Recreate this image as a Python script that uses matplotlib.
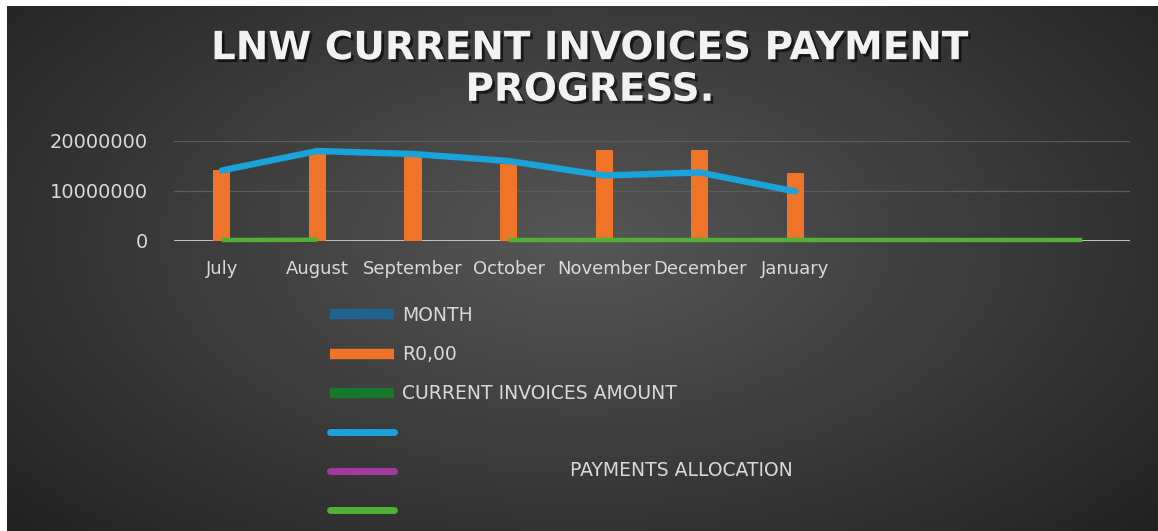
import numpy as np
import matplotlib
matplotlib.use("Agg")
import matplotlib.pyplot as plt
import matplotlib.patheffects as pe
from matplotlib.lines import Line2D

nan = np.nan

# chart data
months = ["July", "August", "September", "October", "November", "December", "January", "", "", ""]
invoice_amounts = [14300000, 17800000, 16800000, 15400000, 18200000, 18200000, 13700000, nan, nan, nan]
payments = [14100000, 18000000, 17400000, 16000000, 13100000, 13700000, 9900000, nan, nan, nan]
allocation = [200000, 250000, nan, 200000, 200000, 200000, 200000, 200000, 200000, 200000]
yticks = [0, 10000000, 20000000]

W, H = 1158, 531
fig = plt.figure(figsize=(W / 100, H / 100), dpi=100)
fig.patch.set_facecolor("white")

# dark radial background (leaves a thin white strip top / left like the reference)
bg = fig.add_axes([7 / W, 0, (W - 7) / W, (H - 6) / H])
bg.set_axis_off()
yy, xx = np.mgrid[0:1:300j, 0:1:600j]
d = np.sqrt(((xx - 0.5) / 0.62) ** 2 + ((yy - 0.45) / 0.75) ** 2)
shade = np.clip(0.34 - 0.19 * d, 0.14, 0.34)
bg.imshow(np.dstack([shade, shade, shade]), aspect="auto", extent=[0, 1, 0, 1])

ax = fig.add_axes([174 / W, (H - 241) / H, (1130 - 174) / W, 100 / H])
ax.set_facecolor("none")
x = np.arange(len(months))

for yv in yticks[1:]:
    ax.axhline(yv, color="#5c5c5c", lw=0.9, zorder=0)
ax.axhline(0, color="#c4c4c4", lw=1.4, zorder=1)

ax.bar(x, invoice_amounts, width=0.18, color="#f07428", zorder=2)
ax.plot(x, allocation, color="#4fb033", lw=3.2, solid_capstyle="butt", zorder=3, clip_on=False)
ax.plot(x, payments, color="#1aa3db", lw=4.6, solid_capstyle="round",
        solid_joinstyle="round", zorder=4, clip_on=False)

ax.set_xlim(-0.5, len(months) - 0.5)
ax.set_ylim(0, 20000000)
ax.set_yticks(yticks)
ax.set_yticklabels([str(v) for v in yticks])
ax.set_xticks(x)
ax.set_xticklabels(months)
ax.tick_params(length=0, colors="#d9d9d9", labelsize=14)
ax.tick_params(axis="y", pad=19)
ax.tick_params(axis="x", pad=14, labelsize=13)
for s in ax.spines.values():
    s.set_visible(False)

title = fig.text(590 / W, 1 - 69 / H, "LNW CURRENT INVOICES PAYMENT\nPROGRESS.",
                 ha="center", va="center", fontsize=28, fontweight="bold",
                 color="#f2f2f2", linespacing=1.12)
title.set_path_effects([pe.withSimplePatchShadow(offset=(2, -2), shadow_rgbFace="black", alpha=0.6)])

handles = [
    Line2D([], [], color="#1f6391", lw=7.5, solid_capstyle="butt"),
    Line2D([], [], color="#f07428", lw=7.5, solid_capstyle="butt"),
    Line2D([], [], color="#17782a", lw=7.5, solid_capstyle="butt"),
    Line2D([], [], color="#1aa3db", lw=5, solid_capstyle="round"),
    Line2D([], [], color="#a23aa0", lw=5, solid_capstyle="round"),
    Line2D([], [], color="#4fb033", lw=5, solid_capstyle="round"),
]
labels = ["MONTH", "R0,00", "CURRENT INVOICES AMOUNT", "", "", ""]
leg = fig.legend(handles, labels, loc="upper left", bbox_to_anchor=(330 / W, 1 - 306 / H),
                 frameon=False, fontsize=13.5, labelcolor="#d9d9d9", handlelength=3.4,
                 handletextpad=0.45, labelspacing=1.07, borderpad=0, borderaxespad=0)
fig.text(570 / W, 1 - 470 / H, "PAYMENTS ALLOCATION", ha="left", va="center",
         fontsize=13.5, color="#d9d9d9")

fig.savefig("out.png", dpi=100)
